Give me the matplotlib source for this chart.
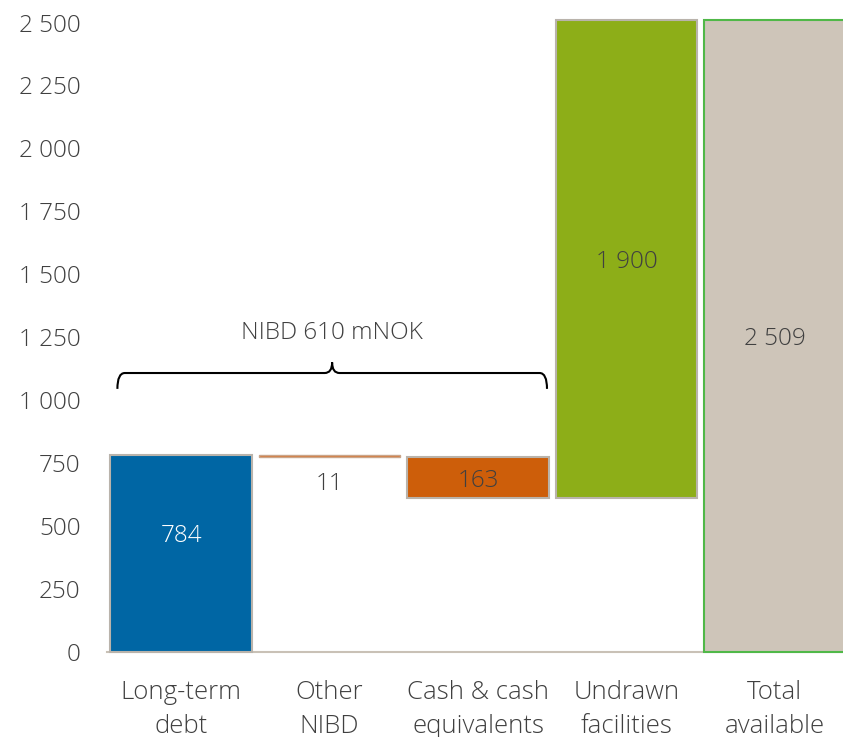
import matplotlib.pyplot as plt
from matplotlib.path import Path
from matplotlib.patches import PathPatch
import numpy as np

plt.rcParams['font.family'] = ['Open Sans', 'DejaVu Sans']

categories = ["Long-term\ndebt", "Other\nNIBD", "Cash & cash\nequivalents", "Undrawn\nfacilities", "Total\navailable"]
changes = [784, -11, -163, 1900]
total = 2509
labels = ["784", "11", "163", "1 900", "2 509"]

fills = ["#0066A4", "#D8702A", "#CD5E0A", "#8DAE18", "#CEC5B9"]
edges = ["#B9B3AB", "#C9A58A", "#B9B3AB", "#B9B3AB", "#50B848"]
edge_w = [1.5, 1.0, 1.5, 1.5, 1.5]
label_colors = ["white", "#404040", "#404040", "#404040", "#404040"]
label_shift = [68, -110, -12, -10, -10]  # nudges in data units to match the source

# waterfall bottoms / heights
bottoms, heights = [], []
run = 0
for c in changes:
    if c >= 0:
        bottoms.append(run)
        heights.append(c)
    else:
        bottoms.append(run + c)
        heights.append(-c)
    run += c
bottoms.append(0)
heights.append(total)

fig = plt.figure(figsize=(8.43, 7.37), dpi=100)
ax = fig.add_axes([107 / 843, 85 / 737, 742 / 843, 632 / 737])

x = np.arange(len(categories))
bars = ax.bar(x, heights, bottom=bottoms, width=0.955, color=fills,
              edgecolor=edges, linewidth=edge_w, clip_on=False)

for i, b in enumerate(bars):
    ax.text(x[i], bottoms[i] + heights[i] / 2 + label_shift[i], labels[i],
            ha="center", va="center", fontsize=17.5, fontweight=300,
            color=label_colors[i])

ax.set_xlim(-0.5, 4.5)
ax.set_ylim(0, 2510)
ax.set_yticks(np.arange(0, 2501, 250))
ax.set_yticklabels([f"{v:,}".replace(",", " ") for v in range(0, 2501, 250)])
ax.set_xticks(x)
ax.set_xticklabels(categories, linespacing=1.5)

for s in ["top", "right", "left"]:
    ax.spines[s].set_visible(False)
ax.spines["bottom"].set_color("#C9C1B6")
ax.spines["bottom"].set_linewidth(1.5)
ax.spines["bottom"].set_zorder(0)

ax.tick_params(axis="both", length=0, colors="#404040")
ax.tick_params(axis="y", pad=19, labelsize=17.5)
ax.tick_params(axis="x", pad=20, labelsize=18.5)
for t in ax.get_xticklabels() + ax.get_yticklabels():
    t.set_fontweight(300)

# brace over the NIBD items
x0, x1, xm = -0.43, 2.465, 1.017
y_end, y_h, y_tip = 1045, 1108, 1150
dx = 0.05
verts = [
    (x0, y_end), (x0, y_h), (x0 + dx, y_h),
    (xm - dx, y_h),
    (xm, y_h), (xm, y_tip),
    (xm, y_h), (xm + dx, y_h),
    (x1 - dx, y_h),
    (x1, y_h), (x1, y_end),
]
codes = [Path.MOVETO, Path.CURVE3, Path.CURVE3, Path.LINETO,
         Path.CURVE3, Path.CURVE3, Path.CURVE3, Path.CURVE3,
         Path.LINETO, Path.CURVE3, Path.CURVE3]
ax.add_patch(PathPatch(Path(verts, codes), fill=False, lw=1.5, color="black"))
ax.text(xm, 1266, "NIBD 610 mNOK", ha="center", va="center",
        fontsize=17.5, fontweight=300, color="#404040")

fig.savefig("out.png", dpi=100)
